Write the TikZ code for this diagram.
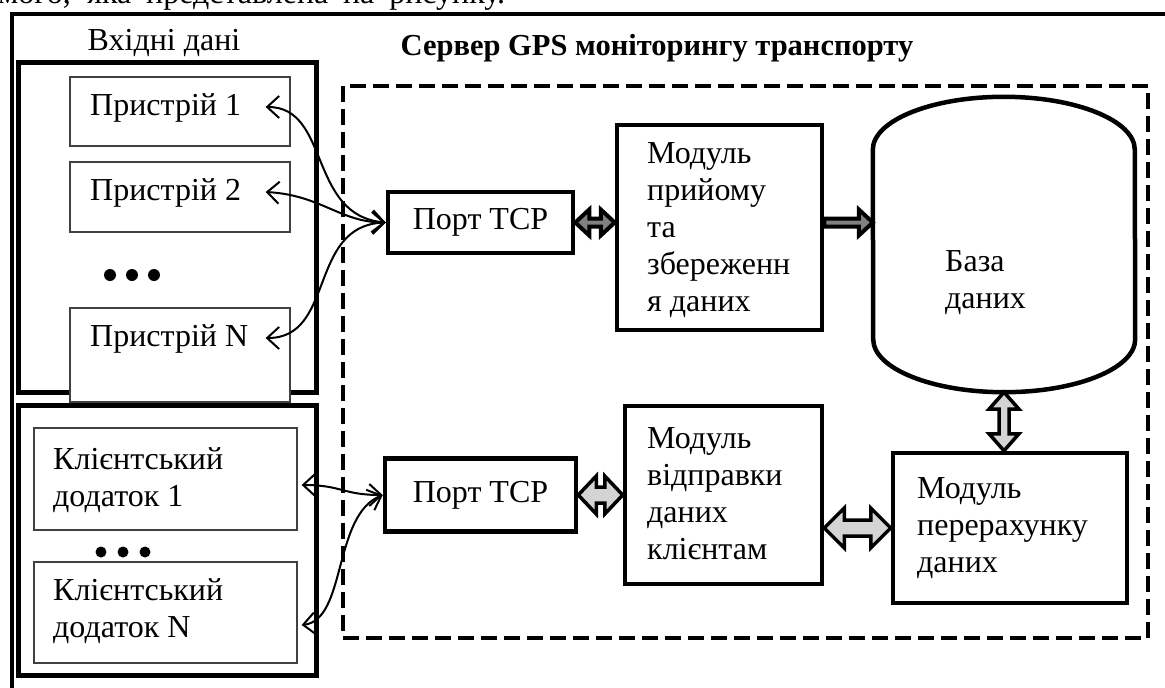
\documentclass[tikz,border=0pt]{standalone}
\usepackage{fontspec}
\setmainfont{Liberation Serif}
\usetikzlibrary{arrows.meta,calc}

\newcommand\blockH[6]{%
  \draw[#1] let \p1=(#2), \p2=(#3) in
   (\x1,\y1) -- (\x1+#6,\y1+#5) -- (\x1+#6,\y1+#4) -- (\x2-#6,\y1+#4) -- (\x2-#6,\y1+#5)
   -- (\x2,\y1) -- (\x2-#6,\y1-#5) -- (\x2-#6,\y1-#4) -- (\x1+#6,\y1-#4) -- (\x1+#6,\y1-#5) -- cycle;}
\newcommand\blockHs[6]{%
  \draw[#1] let \p1=(#2), \p2=(#3) in
   (\x1,\y1+#4) -- (\x2-#6,\y1+#4) -- (\x2-#6,\y1+#5)
   -- (\x2,\y1) -- (\x2-#6,\y1-#5) -- (\x2-#6,\y1-#4) -- (\x1,\y1-#4) -- cycle;}
\newcommand\blockV[6]{%
  \draw[#1] let \p1=(#2), \p2=(#3) in
   (\x1,\y1) -- (\x1+#5,\y1-#6) -- (\x1+#4,\y1-#6) -- (\x1+#4,\y2+#6) -- (\x1+#5,\y2+#6)
   -- (\x1,\y2) -- (\x1-#5,\y2+#6) -- (\x1-#4,\y2+#6) -- (\x1-#4,\y1-#6) -- (\x1-#5,\y1-#6) -- cycle;}

\tikzset{
  grp/.style={draw, line width=5pt, minimum width=298pt, inner sep=0pt},
  dev/.style={draw=black!75, line width=1.3pt, fill=white, inner sep=0pt},
  box/.style={draw, line width=4.5pt, fill=white, inner sep=0pt, align=left},
  txt/.style={inner sep=0pt, align=left, anchor=west},
  conn/.style={line width=2pt, {Straight Barb[length=12pt,width=22pt]}-{Straight Barb[length=12pt,width=22pt]}},
  blkA/.style={draw=black, line width=4pt, fill=black!50},
  blkB/.style={draw=black, line width=3.5pt, fill=black!17},
}

\begin{document}
\begin{tikzpicture}[x=1pt,y=-1pt, font=\fontsize{32}{37}\selectfont]
\clip (0,0) rectangle (1165,688);
\useasboundingbox (0,0) rectangle (1165,688);

% cut-off line of the page text above
\node[anchor=base west, inner sep=0pt] (pagetext) at (-2,3) {\makebox[507pt][s]{мого, яка представлена на рисунку.}};

% outer frame
\draw[line width=4pt] (1170,14) -- (12,14) -- (12,700);

% titles
\node[inner sep=0pt] (inlbl) at (164,43) {Вхідні дані};
\node[inner sep=0pt, font=\fontsize{30.5}{34}\selectfont\bfseries] (title) at (657,48) {Сервер GPS моніторингу транспорту};

% groups
\node[grp, minimum height=330pt] (inbox) at (167,227) {};
\node[grp, minimum height=270pt] (clbox) at (167,540) {};
\node[draw, line width=4.5pt, dash pattern=on 16pt off 7pt, minimum width=805pt, minimum height=552pt, inner sep=0pt] (srv) at (745.5,362) {};

% devices
\node[dev, minimum width=220pt, minimum height=69pt] (d1) at (180,111.5) {};
\node[dev, minimum width=220pt, minimum height=70pt] (d2) at (180,197) {};
\node[dev, minimum width=220pt, minimum height=94pt] (dN) at (180,355) {};
\node[txt] (d1t) at (90,108) {Пристрій 1};
\node[txt] (d2t) at (90,193) {Пристрій 2};
\node[txt] (dNt) at (90,339) {Пристрій N};
\fill (110,275) circle[radius=6pt] (132,275) circle[radius=6pt] (154,275) circle[radius=6pt];

% clients
\node[dev, minimum width=263pt, minimum height=102pt] (c1) at (165.5,479) {};
\node[dev, minimum width=263pt, minimum height=101pt] (cN) at (165.5,612.5) {};
\node[txt] (c1t) at (53,480) {Клієнтський\\додаток 1};
\node[txt] (cNt) at (53,611.5) {Клієнтський\\додаток N};
\fill (101,552) circle[radius=5.5pt] (123,552) circle[radius=5.5pt] (145,552) circle[radius=5.5pt];

% server parts
\node[box, minimum width=185pt, minimum height=61pt] (p1) at (480.5,222.5) {Порт TCP};
\node[box, minimum width=191pt, minimum height=73pt] (p2) at (480.5,495) {Порт TCP};
\node[box, minimum width=205pt, minimum height=205pt] (m1) at (719.5,227.5) {};
\node[txt] (m1t) at (647,230) {Модуль\\прийому\\та\\збереженн\\я даних};
\node[box, minimum width=197pt, minimum height=178pt] (m2) at (723.5,495) {};
\node[txt] (m2t) at (647,494) {Модуль\\відправки\\даних\\клієнтам};
\node[box, minimum width=234pt, minimum height=150pt] (m3) at (1010,528) {};
\node[txt] (m3t) at (917,528) {Модуль\\перерахунку\\даних};

% database
\node[minimum width=262pt, minimum height=295pt, inner sep=0pt] (db) at (1004,244.5) {};
\draw[line width=4.5pt] ($(db.north west)+(0,53)$) arc[start angle=180,end angle=0,x radius=131pt,y radius=53pt]
  -- ($(db.south east)+(0,-53)$) arc[start angle=0,end angle=-180,x radius=131pt,y radius=53pt] -- cycle;
\node[txt] (dbt) at (945,283) {База\\даних};

% thin connectors
\coordinate (d1a) at ($(d1.east)+(-25,-4.5)$);
\coordinate (d2a) at ($(d2.east)+(-25,-5)$);
\coordinate (dNa) at ($(dN.east)+(-25,-17)$);
\coordinate (c1a) at ($(c1.east)+(4,6)$);
\coordinate (cNa) at ($(cN.east)+(4,12.5)$);
\draw[conn] (d1a) .. controls +(65,0) and +(-78,-7) .. (p1.west);
\draw[conn] (d2a) .. controls +(55,3) and +(-45,0) .. (p1.west);
\draw[conn] (dNa) .. controls +(70,0) and +(-78,3) .. (p1.west);
\draw[conn] (c1a) .. controls +(40,0) and +(-40,0) .. (p2.west);
\draw[conn] (cNa) .. controls +(45,-5) and +(-50,20) .. (p2.west);

% block arrows
\blockH{blkA}{p1.east}{m1.west}{4}{13}{14}
\blockHs{blkA}{m1.east |- p1.east}{db.west}{4}{13}{14}
\blockH{blkB}{p2.east}{m2.west}{8}{19}{18}
\blockH{blkB}{m2.east |- m3.west}{m3.west}{8}{20}{20}
\blockV{blkB}{db.south}{m3.north}{5}{15}{17}
\end{tikzpicture}
\end{document}
